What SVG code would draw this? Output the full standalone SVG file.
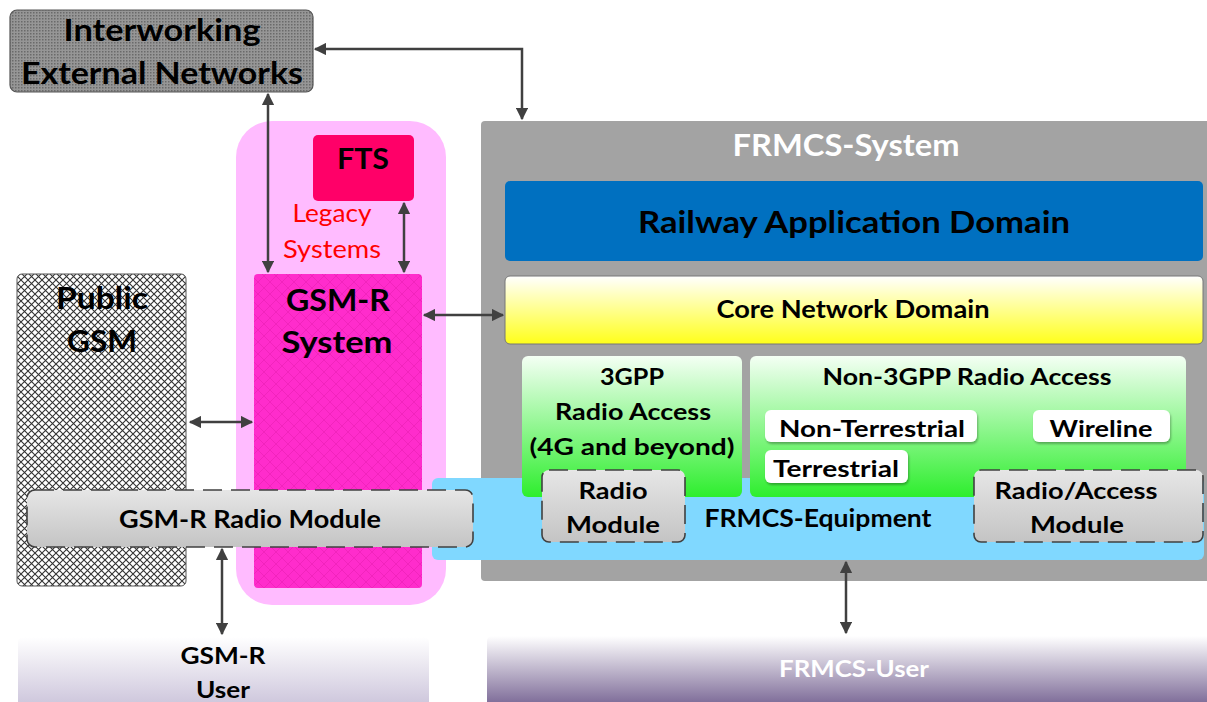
<svg xmlns="http://www.w3.org/2000/svg" width="1207" height="702" viewBox="0 0 1207 702">
  <style>
    text { font-family: Lato, "Open Sans", "Liberation Sans", sans-serif; font-weight: bold; text-anchor: middle; fill: #000; }
    .red { fill: #ff0000; font-weight: normal; }
    .white { fill: #ffffff; }
    .conn { stroke: #404040; stroke-width: 2.5; fill: none; marker-start: url(#arr); marker-end: url(#arr); }
    .dashed { stroke: #404040; stroke-width: 1.6; stroke-dasharray: 19 9; }
    .chip { fill: #fff; filter: url(#shadow); }
  </style>
  <defs>
    <marker id="arr" viewBox="0 0 10 10" refX="9" refY="5" markerWidth="5" markerHeight="5" orient="auto-start-reverse" markerUnits="strokeWidth">
      <path d="M0,0 L10,5 L0,10 z" fill="#404040"/>
    </marker>
    <pattern id="dots" width="3" height="3" patternUnits="userSpaceOnUse">
      <rect width="3" height="3" fill="#969696"/>
      <rect width="1.5" height="1.5" fill="#6a6a6a"/>
    </pattern>
    <pattern id="hatch" width="7" height="7" patternUnits="userSpaceOnUse">
      <rect width="7" height="7" fill="#fff"/>
      <path d="M0,0 L7,7 M7,0 L0,7" stroke="#333" stroke-width="1.1"/>
    </pattern>
    <pattern id="magenta" width="12" height="12" patternUnits="userSpaceOnUse">
      <rect width="12" height="12" fill="#ff2ccc"/>
      <path d="M0,0 L12,12 M12,0 L0,12" stroke="#f224bd" stroke-width="1"/>
    </pattern>
    <linearGradient id="gray" x1="0" y1="0" x2="0" y2="1">
      <stop offset="0" stop-color="#e6e6e6"/>
      <stop offset="1" stop-color="#c4c4c4"/>
    </linearGradient>
    <linearGradient id="yellow" x1="0" y1="0" x2="0" y2="1">
      <stop offset="0" stop-color="#ffffff"/>
      <stop offset="1" stop-color="#ffff1a"/>
    </linearGradient>
    <linearGradient id="green" x1="0" y1="0" x2="0" y2="1">
      <stop offset="0" stop-color="#f4fff4"/>
      <stop offset="1" stop-color="#2eee2e"/>
    </linearGradient>
    <linearGradient id="lavender" x1="0" y1="0" x2="0" y2="1">
      <stop offset="0" stop-color="#ffffff"/>
      <stop offset="1" stop-color="#c8c0d8"/>
    </linearGradient>
    <linearGradient id="purple" x1="0" y1="0" x2="0" y2="1">
      <stop offset="0" stop-color="#ffffff"/>
      <stop offset="1" stop-color="#6e5a8c"/>
    </linearGradient>
    <filter id="shadow" x="-10%" y="-20%" width="130%" height="160%">
      <feDropShadow dx="1" dy="2" stdDeviation="1.2" flood-color="#000" flood-opacity="0.3"/>
    </filter>
  </defs>

  <!-- Interworking external networks -->
  <g id="interworking">
    <rect x="10" y="10" width="303" height="82" rx="7" fill="url(#dots)" stroke="#555" stroke-width="1.2"/>
    <text x="162" y="41" font-size="31" textLength="197" lengthAdjust="spacingAndGlyphs">Interworking</text>
    <text x="162" y="84" font-size="31" textLength="282" lengthAdjust="spacingAndGlyphs">External Networks</text>
  </g>

  <!-- Legacy systems container -->
  <g id="legacy">
    <rect x="236" y="121" width="210" height="484" rx="36" fill="#ffbbff"/>
    <text class="red" x="332" y="222" font-size="25" textLength="79" lengthAdjust="spacingAndGlyphs">Legacy</text>
    <text class="red" x="332" y="258" font-size="25" textLength="98" lengthAdjust="spacingAndGlyphs">Systems</text>
  </g>

  <g id="fts">
    <rect x="313" y="135" width="101" height="66" rx="5" fill="#ff0068"/>
    <text x="363" y="169" font-size="29" textLength="52" lengthAdjust="spacingAndGlyphs">FTS</text>
  </g>

  <g id="gsmr-system">
    <rect x="254" y="274" width="168" height="314" rx="4" fill="url(#magenta)"/>
    <text x="338" y="311" font-size="31" textLength="104" lengthAdjust="spacingAndGlyphs">GSM-R</text>
    <text x="337" y="353" font-size="31" textLength="111" lengthAdjust="spacingAndGlyphs">System</text>
  </g>

  <g id="public-gsm">
    <rect x="17" y="274" width="169" height="312" rx="5" fill="url(#hatch)" stroke="#555" stroke-width="1"/>
    <text x="102" y="309" font-size="30" textLength="92" lengthAdjust="spacingAndGlyphs">Public</text>
    <text x="102" y="352" font-size="30" textLength="70" lengthAdjust="spacingAndGlyphs">GSM</text>
  </g>

  <!-- FRMCS system -->
  <g id="frmcs-system">
    <rect x="481" y="121" width="730" height="460" rx="4" fill="#a3a3a3"/>
    <text class="white" x="846" y="156" font-size="30" textLength="227" lengthAdjust="spacingAndGlyphs">FRMCS-System</text>
  </g>

  <g id="railway-app">
    <rect x="505" y="181" width="698" height="80" rx="5" fill="#0070c0"/>
    <text x="854" y="233" font-size="31" textLength="432" lengthAdjust="spacingAndGlyphs">Railway Application Domain</text>
  </g>

  <g id="core-network">
    <rect x="505" y="276" width="698" height="68" rx="5" fill="url(#yellow)" stroke="#777" stroke-width="1"/>
    <text x="853" y="318" font-size="24" textLength="273" lengthAdjust="spacingAndGlyphs">Core Network Domain</text>
  </g>

  <g id="frmcs-equipment">
    <rect x="432" y="478" width="772" height="82" rx="6" fill="#80d8ff"/>
    <text x="818" y="527" font-size="24" textLength="227" lengthAdjust="spacingAndGlyphs">FRMCS-Equipment</text>
  </g>

  <g id="radio-3gpp">
    <rect x="522" y="356" width="220" height="141" rx="6" fill="url(#green)"/>
    <text x="632" y="385" font-size="23" textLength="64" lengthAdjust="spacingAndGlyphs">3GPP</text>
    <text x="633" y="420" font-size="23" textLength="156" lengthAdjust="spacingAndGlyphs">Radio Access</text>
    <text x="632" y="455" font-size="23" textLength="205" lengthAdjust="spacingAndGlyphs">(4G and beyond)</text>
  </g>

  <g id="radio-non3gpp">
    <rect x="750" y="356" width="436" height="141" rx="6" fill="url(#green)"/>
    <text x="967" y="385" font-size="23" textLength="289" lengthAdjust="spacingAndGlyphs">Non-3GPP Radio Access</text>
  </g>

  <g id="non-terrestrial">
    <rect class="chip" x="765" y="410" width="212" height="32" rx="6"/>
    <text x="872" y="437" font-size="23" textLength="186" lengthAdjust="spacingAndGlyphs">Non-Terrestrial</text>
  </g>

  <g id="wireline">
    <rect class="chip" x="1033" y="410" width="137" height="32" rx="6"/>
    <text x="1101" y="437" font-size="23" textLength="103" lengthAdjust="spacingAndGlyphs">Wireline</text>
  </g>

  <g id="terrestrial">
    <rect class="chip" x="765" y="450" width="143" height="33" rx="6"/>
    <text x="836" y="477" font-size="23" textLength="126" lengthAdjust="spacingAndGlyphs">Terrestrial</text>
  </g>

  <g id="radio-module">
    <rect class="dashed" x="542" y="470" width="143" height="72" rx="7" fill="url(#gray)"/>
    <text x="613" y="499" font-size="23" textLength="69" lengthAdjust="spacingAndGlyphs">Radio</text>
    <text x="613" y="533" font-size="23" textLength="94" lengthAdjust="spacingAndGlyphs">Module</text>
  </g>

  <g id="radio-access-module">
    <rect class="dashed" x="974" y="470" width="229" height="72" rx="7" fill="url(#gray)"/>
    <text x="1076" y="499" font-size="23" textLength="163" lengthAdjust="spacingAndGlyphs">Radio/Access</text>
    <text x="1077" y="533" font-size="23" textLength="94" lengthAdjust="spacingAndGlyphs">Module</text>
  </g>

  <g id="gsmr-radio-module">
    <rect class="dashed" x="27" y="490" width="446" height="57" rx="8" fill="url(#gray)"/>
    <text x="250" y="528" font-size="24" textLength="262" lengthAdjust="spacingAndGlyphs">GSM-R Radio Module</text>
  </g>

  <!-- Users -->
  <g id="gsmr-user">
    <rect x="18" y="637" width="411" height="75" rx="5" fill="url(#lavender)"/>
    <text x="223" y="664" font-size="23" textLength="85" lengthAdjust="spacingAndGlyphs">GSM-R</text>
    <text x="223" y="698" font-size="23" textLength="54" lengthAdjust="spacingAndGlyphs">User</text>
  </g>

  <g id="frmcs-user">
    <rect x="487" y="636" width="724" height="76" rx="5" fill="url(#purple)"/>
    <text class="white" x="854" y="677" font-size="23" textLength="150" lengthAdjust="spacingAndGlyphs">FRMCS-User</text>
  </g>

  <!-- Connectors -->
  <g id="connectors">
    <path class="conn" d="M315,49 L522,49 L522,119"/>
    <path class="conn" d="M268,94 L268,272"/>
    <path class="conn" d="M404,203 L404,272"/>
    <path class="conn" d="M424,315 L503,315"/>
    <path class="conn" d="M190,422 L252,422"/>
    <path class="conn" d="M222,549 L222,634"/>
    <path class="conn" d="M846,562 L846,633"/>
  </g>
</svg>
